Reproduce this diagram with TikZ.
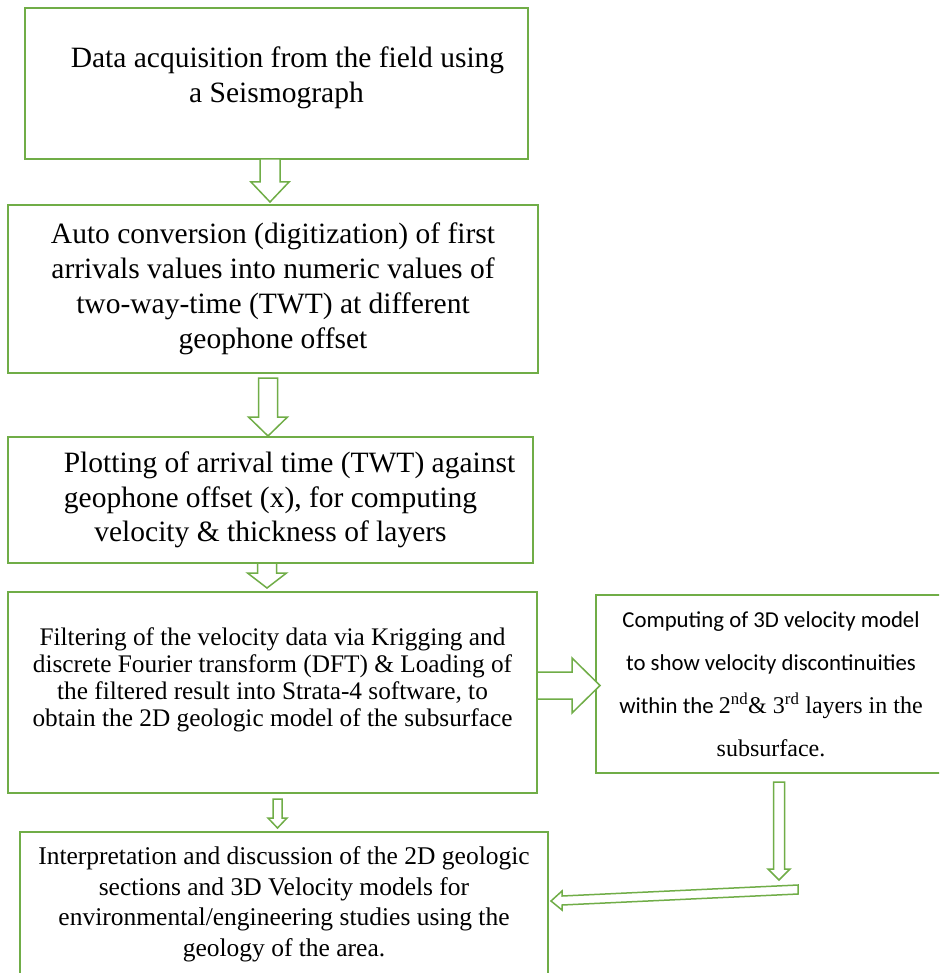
\documentclass[tikz,border=0pt]{standalone}
\usepackage{fontspec}
\setmainfont{Liberation Serif}
\newfontfamily\calfont{Carlito}
\usetikzlibrary{calc}
\definecolor{boxgreen}{RGB}{112,173,71}
\tikzset{
  box/.style={draw=boxgreen, line width=1.8pt, anchor=north west, inner sep=0pt, outer sep=0pt, align=center, text=black},
  blockarrow/.style={draw=boxgreen, line width=1.5pt, fill=white, line join=miter},
}
% #1 from, #2 to, #3 centre x, #4 half shaft, #5 half head, #6 head length, #7 top gap, #8 tip gap
\newcommand{\downblock}[8]{%
  \draw[blockarrow] let \p1=(#1.south), \p2=(#2.north) in
    (#3pt-#4pt,\y1-#7pt) -- (#3pt-#4pt,\y2+#8pt+#6pt) -- (#3pt-#5pt,\y2+#8pt+#6pt) --
    (#3pt,\y2+#8pt) -- (#3pt+#5pt,\y2+#8pt+#6pt) -- (#3pt+#4pt,\y2+#8pt+#6pt) --
    (#3pt+#4pt,\y1-#7pt) -- cycle;}
\begin{document}
\begin{tikzpicture}[x=1pt,y=-1pt]
\useasboundingbox (0,0) rectangle (939,973);
\clip (0,0) rectangle (939,973);
\fill[white] (0,0) rectangle (939,973);

\node[box, minimum width=503pt, minimum height=151pt, font=\fontsize{29.5}{35}\selectfont] (b1) at (25,8)
  {\hspace*{22pt}Data acquisition from the field using\\a Seismograph\rule[-18pt]{0pt}{18pt}};

\node[box, minimum width=530pt, minimum height=168pt, font=\fontsize{29.5}{35}\selectfont] (b2) at (8,205)
  {Auto conversion (digitization) of first\\arrivals values into numeric values of\\two-way-time (TWT) at different\\geophone offset};

\node[box, minimum width=525pt, minimum height=126pt, font=\fontsize{29.5}{34.5}\selectfont] (b3) at (8,437)
  {\hspace*{38pt}Plotting of arrival time (TWT) against\\geophone offset (x), for computing\\velocity \& thickness of layers};

\node[box, minimum width=529pt, minimum height=201pt, font=\fontsize{25.3}{27}\selectfont] (b4) at (8,592)
  {Filtering of the velocity data via Krigging and\\discrete Fourier transform (DFT) \& Loading of\\the filtered result into Strata-4 software, to\\obtain the 2D geologic model of the subsurface\rule[-31pt]{0pt}{31pt}};

\node[box, minimum width=350pt, minimum height=178pt, font=\calfont\fontsize{22.8}{43}\selectfont] (b5) at (596,595)
  {Computing of 3D velocity model\\to show velocity discontinuities\\within the {\rmfamily\fontsize{24}{43}\selectfont 2\textsuperscript{nd}\& 3\textsuperscript{rd} layers in the}\\{\rmfamily\fontsize{24}{43}\selectfont subsurface.}};

\node[box, minimum width=528pt, minimum height=148pt, font=\fontsize{25.5}{30.5}\selectfont] (b6) at (20,832)
  {Interpretation and discussion of the 2D geologic\\sections and 3D Velocity models for\\environmental/engineering studies using the\\geology of the area.\rule[-9pt]{0pt}{9pt}};

\downblock{b1}{b2}{270}{10}{19}{20}{0}{3}
\downblock{b2}{b3}{268}{9.5}{19.5}{19}{5}{1}
\downblock{b3}{b4}{267}{9.5}{19.5}{15}{0}{4}
\downblock{b4}{b6}{277.5}{4.5}{9.5}{10}{6}{4}

\draw[blockarrow] let \p1=(b4.east), \p2=(b5.west) in
  (\x1,-672pt) -- (572pt,-672pt) -- (572pt,-658pt) -- (\x2+4pt,-685.5pt) --
  (572pt,-713pt) -- (572pt,-699pt) -- (\x1,-699pt) -- cycle;

\coordinate (j) at (779,889);
\draw[blockarrow] let \p1=(b5.south), \p2=(j) in
  (\x2-5.5pt,\y1-9pt) -- (\x2-5.5pt,\y2+20pt) -- (\x2-11pt,\y2+20pt) -- (\x2,\y2+9pt) --
  (\x2+11pt,\y2+20pt) -- (\x2+5.5pt,\y2+20pt) -- (\x2+5.5pt,\y1-9pt) -- cycle;

\draw[blockarrow] let \p1=(j), \p2=(b6.east) in
  (\x1+19pt,\y1+4pt) -- (562pt,-896pt) -- (562pt,-891pt) -- (\x2+3pt,-901pt) --
  (562pt,-910pt) -- (562pt,-905pt) -- (\x1+19pt,\y1-5pt) -- cycle;
\end{tikzpicture}
\end{document}
